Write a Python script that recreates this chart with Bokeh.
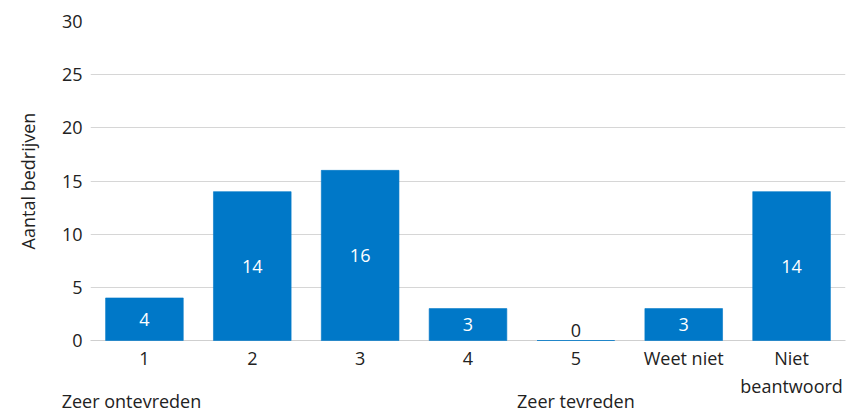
from bokeh.plotting import figure
from bokeh.models import ColumnDataSource, LinearAxis, FixedTicker
from bokeh.core.properties import value
from bokeh.embed import file_html
from bokeh.resources import INLINE

categories = ["1", "2", "3", "4", "5", "Weet niet", "Niet beantwoord"]
counts = [4, 14, 16, 3, 0, 3, 14]
y_ticks = [0, 5, 10, 15, 20, 25, 30]
scale_ends = ["Zeer ontevreden", "Zeer tevreden"]

FONT = "Open Sans"
FS = "18px"
BLUE = "#0078c8"
TXT = "#222222"

xs = list(range(len(categories)))

p = figure(x_range=(-0.5, len(categories) - 0.5), y_range=(0, 30),
           width=846, height=415, output_backend="svg", toolbar_location=None,
           min_border_left=90, min_border_right=1, min_border_top=21, min_border_bottom=0)
p.outline_line_color = None
p.background_fill_color = "white"

src = ColumnDataSource(dict(x=xs, val=counts))
bars = p.vbar(x="x", top="val", width=0.72, source=src, fill_color=BLUE,
              line_color=BLUE, line_width=1, line_alpha=0.6)
bars.level = "annotation"

nz = [i for i, v in enumerate(counts) if v > 0]
z = [i for i, v in enumerate(counts) if v == 0]
src_in = ColumnDataSource(dict(x=nz, y=[counts[i] / 2 for i in nz],
                               lab=[str(counts[i]) for i in nz]))
t1 = p.text(x="x", y="y", text="lab", source=src_in, text_color="white",
            text_font=value(FONT), text_font_size=FS, text_align="center",
            text_baseline="middle")
t1.level = "annotation"
src_z = ColumnDataSource(dict(x=z, y=[counts[i] for i in z],
                              lab=[str(counts[i]) for i in z]))
p.text(x="x", y="y", text="lab", source=src_z, text_color=TXT,
       text_font=value(FONT), text_font_size=FS, text_align="center",
       text_baseline="bottom", y_offset=-4)

p.yaxis.ticker = y_ticks
p.yaxis.axis_line_color = None
p.yaxis.major_tick_line_color = None
p.yaxis.minor_tick_line_color = None
p.yaxis.major_tick_out = 0
p.yaxis.major_label_text_font = FONT
p.yaxis.major_label_text_font_size = FS
p.yaxis.major_label_text_color = TXT
p.yaxis.major_label_standoff = 8
p.yaxis.axis_label = "Aantal bedrijven"
p.yaxis.axis_label_text_font = FONT
p.yaxis.axis_label_text_font_size = FS
p.yaxis.axis_label_text_font_style = "normal"
p.yaxis.axis_label_text_color = TXT
p.yaxis.axis_label_standoff = 19

def style_x(ax, standoff):
    ax.major_tick_line_color = None
    ax.minor_tick_line_color = None
    ax.major_tick_out = 0
    ax.major_tick_in = 0
    ax.minor_tick_out = 0
    ax.minor_tick_in = 0
    ax.major_label_text_font = FONT
    ax.major_label_text_font_size = FS
    ax.major_label_text_color = TXT
    ax.major_label_standoff = standoff

xa = p.xaxis[0]
xa.ticker = FixedTicker(ticks=xs)
xa.major_label_overrides = {i: c.split(" ")[0] if c == "Niet beantwoord" else c
                            for i, c in enumerate(categories)}
xa.axis_line_color = "#cfcfcf"
style_x(xa, 5)

# second line of the last category label
last = len(categories) - 1
xa2 = LinearAxis(ticker=FixedTicker(ticks=[last]),
                 major_label_overrides={last: categories[last].split(" ")[1]},
                 axis_line_color=None)
style_x(xa2, 1)
p.add_layout(xa2, "below")

# scale end descriptions under 1 and 5
end_pos = [-0.12, 4]
xa3 = LinearAxis(ticker=FixedTicker(ticks=end_pos),
                 major_label_overrides={end_pos[0]: scale_ends[0], end_pos[1]: scale_ends[1]},
                 axis_line_color=None)
style_x(xa3, -12)
p.add_layout(xa3, "below")

p.xgrid.grid_line_color = None
p.ygrid.grid_line_color = "#d6d6d6"
p.ygrid.ticker = y_ticks

open("out.html", "w").write(file_html(p, INLINE))
